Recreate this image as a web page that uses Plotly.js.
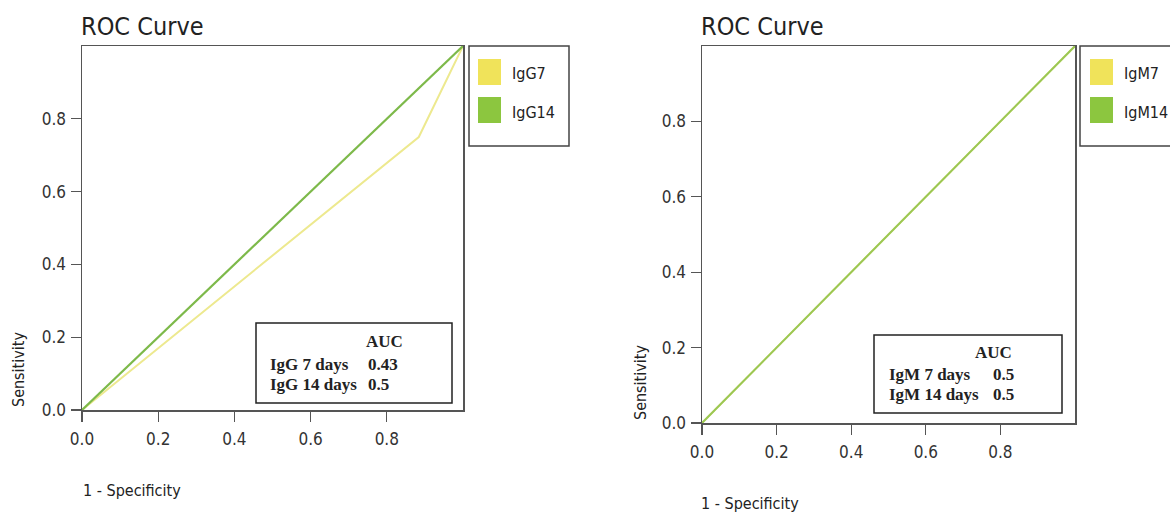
<!DOCTYPE html>
<html><head><meta charset="utf-8">
<script src="https://cdn.plot.ly/plotly-3.0.1.min.js"></script>
<style>html,body{margin:0;padding:0;background:#fff}#c{width:1170px;height:513px}</style>
</head><body><div id="c"></div>
<script>
// Data
const igg7_fpr = [0, 0.884, 1];
const igg7_tpr = [0, 0.75, 1];
const igg14_fpr = [0, 1];
const igg14_tpr = [0, 1];
const igm7_fpr = [0, 1];
const igm7_tpr = [0, 1];
const igm14_fpr = [0, 1];
const igm14_tpr = [0, 1];
const legendLeft = ["IgG7", "IgG14"];
const legendRight = ["IgM7", "IgM14"];
const aucLeftLabels = ["IgG 7 days", "IgG 14 days"];
const aucLeftValues = ["0.43", "0.5"];
const aucRightLabels = ["IgM 7 days", "IgM 14 days"];
const aucRightValues = ["0.5", "0.5"];
const tickVals = [0, 0.2, 0.4, 0.6, 0.8];
const tickText = ["0.0", "0.2", "0.4", "0.6", "0.8"];

const W = 1170, H = 513;
const px = x => x / W;
const py = y => 1 - y / H;

const YEL_LINE = '#ede98f', GRN_LINE = '#7db94a';
const YEL = '#f0e35a', GRN = '#8cc63f';

const traces = [
  {x: igg7_fpr, y: igg7_tpr, xaxis: 'x', yaxis: 'y', mode: 'lines', line: {color: YEL_LINE, width: 2}, name: 'IgG7'},
  {x: igg14_fpr, y: igg14_tpr, xaxis: 'x', yaxis: 'y', mode: 'lines', line: {color: GRN_LINE, width: 2.2}, name: 'IgG14'},
  {x: igm7_fpr, y: igm7_tpr, xaxis: 'x2', yaxis: 'y2', mode: 'lines', line: {color: YEL_LINE, width: 2}, name: 'IgM7'},
  {x: igm14_fpr, y: igm14_tpr, xaxis: 'x2', yaxis: 'y2', mode: 'lines', line: {color: '#9ac754', width: 2}, name: 'IgM14'}
];

const sans = 'DejaVu Sans Condensed, DejaVu Sans, sans-serif';
const serif = 'Liberation Serif, Times New Roman, serif';
const tickFont = {family: sans, size: 17, color: '#333'};
function ax(domain, anchor, isX) {
  return {domain: domain, anchor: anchor, range: [0, 1], tickvals: tickVals, ticktext: tickText,
    ticks: 'outside', ticklen: 10, tickcolor: '#555', tickwidth: 1.3, showgrid: false, zeroline: false,
    showline: true, linecolor: '#555', linewidth: 1.5, mirror: true, tickfont: tickFont, fixedrange: true,
    ticklabelstandoff: isX ? 3 : 1};
}

const layout = {
  width: W, height: H, margin: {l: 0, r: 0, t: 0, b: 0}, showlegend: false,
  paper_bgcolor: '#fff', plot_bgcolor: '#fff',
  xaxis: ax([px(82), px(463)], 'y', true),
  yaxis: ax([py(410), py(46)], 'x', false),
  xaxis2: ax([px(702), px(1075)], 'y2', true),
  yaxis2: ax([py(423), py(46)], 'x2', false),
  shapes: [], annotations: []
};

function txt(x, y, t, size, fam, opts) {
  layout.annotations.push(Object.assign({xref: 'paper', yref: 'paper', x: px(x), y: py(y), text: t, showarrow: false,
    xanchor: 'left', yanchor: 'middle', font: {family: fam, size: size, color: '#222'}}, opts || {}));
}
function rect(x0, y0, x1, y1, line, fill) {
  layout.shapes.push({type: 'rect', xref: 'paper', yref: 'paper', x0: px(x0), x1: px(x1), y0: py(y1), y1: py(y0),
    line: {color: line || '#333', width: line ? 1.5 : 0}, fillcolor: fill || 'rgba(0,0,0,0)'});
}

// Titles
txt(79, 27, 'ROC Curve', 25, sans);
txt(699, 27, 'ROC Curve', 25, sans);
// Axis titles
txt(81, 490, '1 - Specificity', 16, sans);
txt(699, 503, '1 - Specificity', 16, sans);
txt(18, 370, 'Sensitivity', 16, sans, {textangle: -90, xanchor: 'center'});
txt(640, 383, 'Sensitivity', 16, sans, {textangle: -90, xanchor: 'center'});

// Legends
rect(469, 46, 569, 146, '#444');
rect(478, 59, 501, 85, null, YEL);
rect(478, 97, 501, 123, null, GRN);
txt(510, 73, legendLeft[0], 16, sans);
txt(510, 112, legendLeft[1], 16, sans);
rect(1080, 46, 1200, 146, '#444');
rect(1090, 59, 1113, 85, null, YEL);
rect(1090, 97, 1113, 123, null, GRN);
txt(1122, 73, legendRight[0], 16, sans);
txt(1122, 112, legendRight[1], 16, sans);

// AUC boxes
rect(256, 323, 452, 403, '#222', '#fff');
txt(384, 341, '<b>AUC</b>', 17, serif, {xanchor: 'center'});
txt(268, 364, '<b>' + aucLeftLabels[0] + '</b>', 17, serif);
txt(366, 364, '<b>' + aucLeftValues[0] + '</b>', 17, serif);
txt(268, 384, '<b>' + aucLeftLabels[1] + '</b>', 17, serif);
txt(366, 384, '<b>' + aucLeftValues[1] + '</b>', 17, serif);

rect(874, 335, 1062, 413, '#222', '#fff');
txt(993, 352, '<b>AUC</b>', 17, serif, {xanchor: 'center'});
txt(887, 374, '<b>' + aucRightLabels[0] + '</b>', 17, serif);
txt(991, 374, '<b>' + aucRightValues[0] + '</b>', 17, serif);
txt(887, 394, '<b>' + aucRightLabels[1] + '</b>', 17, serif);
txt(991, 394, '<b>' + aucRightValues[1] + '</b>', 17, serif);

Plotly.newPlot('c', traces, layout, {displayModeBar: false, staticPlot: true});
</script></body></html>
